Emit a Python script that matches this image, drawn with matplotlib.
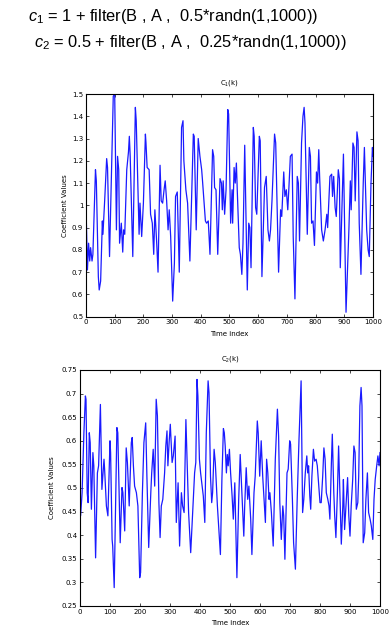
import matplotlib
matplotlib.use('Agg')
import matplotlib.pyplot as plt

t1 = [0, 5, 9, 13, 16, 21, 24, 33, 36, 43, 46, 51, 57, 59, 65, 72, 75, 82, 95, 100,
      106, 110, 114, 117, 123, 128, 131, 135, 142, 148, 151, 154, 163, 172, 175, 185, 188, 194, 200, 207,
      209, 213, 220, 225, 231, 236, 240, 246, 251, 258, 262, 267, 272, 276, 281, 286, 290, 295, 302, 308,
      312, 318, 325, 333, 338, 341, 348, 351, 354, 362, 374, 377, 384, 391, 397, 403, 406, 416, 420, 426,
      432, 441, 445, 448, 453, 459, 467, 472, 475, 478, 483, 488, 494, 497, 504, 509, 511, 516, 520, 524,
      527, 534, 538, 543, 547, 553, 557, 562, 567, 571, 575, 583, 586, 591, 595, 604, 607, 613, 622, 628,
      634, 639, 643, 648, 657, 661, 671, 678, 682, 689, 693, 698, 703, 707, 712, 718, 722, 728, 736, 740,
      744, 751, 756, 760, 763, 771, 778, 782, 786, 791, 796, 803, 807, 811, 814, 821, 827, 833, 839, 842,
      850, 856, 859, 863, 868, 872, 879, 883, 886, 897, 906, 916, 921, 924, 930, 934, 938, 944, 948, 952,
      958, 966, 970, 978, 983, 987, 993, 998, 1000]
c1 = [1.00, 0.71, 0.83, 0.75, 0.81, 0.75, 0.78, 1.16, 1.11, 0.68, 0.62, 0.66, 0.93, 0.87, 1.02, 1.21, 1.17, 0.77, 1.49, 1.50,
      0.89, 1.22, 1.16, 0.83, 0.92, 0.79, 0.89, 0.87, 1.16, 1.24, 1.31, 1.22, 0.77, 1.44, 1.38, 0.87, 1.01, 0.86, 1.01, 1.32,
      1.28, 1.17, 1.16, 0.96, 0.92, 0.78, 0.98, 0.84, 0.70, 1.18, 1.02, 1.01, 1.07, 1.11, 1.02, 0.89, 0.98, 0.86, 0.57, 0.74,
      1.04, 1.06, 0.70, 1.35, 1.38, 1.20, 1.07, 1.04, 1.01, 0.75, 1.32, 1.31, 0.89, 1.30, 1.22, 1.16, 1.11, 0.93, 0.92, 0.93,
      0.78, 1.25, 1.22, 1.08, 1.07, 0.78, 1.12, 1.10, 0.98, 1.11, 0.96, 1.07, 1.43, 1.41, 0.92, 1.07, 0.92, 1.17, 1.10, 1.19,
      1.07, 0.81, 0.78, 0.69, 0.83, 1.27, 0.98, 0.62, 0.92, 0.90, 0.72, 1.35, 1.31, 0.99, 0.96, 1.31, 1.29, 0.68, 1.08, 1.13,
      0.89, 0.84, 0.89, 1.02, 1.32, 1.28, 0.70, 0.98, 0.95, 1.15, 1.04, 1.07, 0.98, 1.08, 1.22, 1.23, 0.86, 0.58, 1.13, 1.10,
      0.84, 1.28, 1.40, 1.44, 1.37, 0.87, 1.26, 1.22, 0.92, 0.93, 0.82, 1.15, 1.10, 1.25, 1.13, 0.89, 0.84, 0.89, 0.96, 0.90,
      1.13, 1.14, 1.04, 1.13, 0.99, 0.95, 1.16, 1.12, 0.72, 1.23, 0.52, 0.89, 1.11, 0.98, 1.28, 1.26, 1.02, 1.33, 1.29, 0.92,
      0.69, 1.10, 1.26, 0.89, 0.80, 0.77, 1.10, 1.26, 1.22]

t2 = [0, 2, 7, 13, 18, 20, 24, 27, 31, 34, 38, 43, 46, 52, 58, 62, 68, 73, 80, 82,
      88, 93, 100, 102, 107, 109, 114, 123, 126, 134, 140, 143, 149, 154, 158, 164, 171, 174, 178, 182,
      188, 193, 199, 202, 208, 213, 219, 223, 229, 236, 239, 244, 249, 254, 258, 263, 267, 271, 276, 282,
      286, 290, 293, 297, 301, 307, 311, 317, 321, 327, 332, 338, 342, 347, 353, 358, 362, 369, 377, 382,
      386, 390, 393, 398, 402, 407, 411, 416, 421, 427, 430, 435, 439, 442, 447, 451, 458, 468, 473, 478,
      481, 484, 488, 491, 494, 498, 502, 507, 511, 516, 523, 529, 534, 540, 546, 549, 554, 559, 563, 569,
      573, 580, 584, 591, 594, 599, 604, 609, 613, 618, 622, 626, 630, 633, 638, 644, 651, 658, 662, 666,
      671, 676, 679, 683, 690, 694, 699, 702, 708, 712, 718, 724, 730, 737, 742, 746, 751, 756, 759, 762,
      766, 769, 773, 778, 782, 787, 791, 796, 800, 804, 809, 813, 817, 821, 826, 830, 833, 838, 841, 846,
      849, 853, 858, 862, 867, 871, 876, 878, 882, 888, 892, 896, 900, 904, 909, 913, 917, 921, 926, 929,
      933, 937, 940, 944, 949, 953, 958, 962, 967, 971, 976, 980, 984, 989, 993, 997, 1000]
c2 = [0.476, 0.441, 0.490, 0.617, 0.695, 0.688, 0.490, 0.469, 0.617, 0.596, 0.455, 0.575, 0.547, 0.352, 0.532, 0.547, 0.677, 0.497, 0.561, 0.540,
      0.462, 0.441, 0.600, 0.575, 0.391, 0.377, 0.289, 0.628, 0.617, 0.384, 0.501, 0.490, 0.409, 0.585, 0.554, 0.462, 0.596, 0.607, 0.547, 0.504,
      0.490, 0.462, 0.310, 0.321, 0.490, 0.596, 0.638, 0.525, 0.374, 0.490, 0.532, 0.582, 0.504, 0.688, 0.653, 0.469, 0.395, 0.462, 0.476, 0.532,
      0.589, 0.621, 0.547, 0.596, 0.635, 0.554, 0.568, 0.610, 0.427, 0.511, 0.377, 0.490, 0.462, 0.448, 0.645, 0.532, 0.448, 0.363, 0.469, 0.532,
      0.554, 0.730, 0.695, 0.561, 0.532, 0.504, 0.483, 0.427, 0.617, 0.727, 0.702, 0.525, 0.469, 0.490, 0.582, 0.554, 0.462, 0.359, 0.518, 0.626,
      0.617, 0.589, 0.532, 0.571, 0.547, 0.582, 0.532, 0.483, 0.434, 0.511, 0.310, 0.476, 0.571, 0.483, 0.398, 0.462, 0.543, 0.476, 0.504, 0.434,
      0.359, 0.490, 0.525, 0.642, 0.617, 0.525, 0.600, 0.525, 0.483, 0.427, 0.561, 0.532, 0.476, 0.490, 0.448, 0.377, 0.561, 0.667, 0.610, 0.469,
      0.391, 0.462, 0.441, 0.349, 0.532, 0.540, 0.600, 0.593, 0.476, 0.384, 0.328, 0.476, 0.603, 0.727, 0.448, 0.476, 0.532, 0.568, 0.532, 0.547,
      0.483, 0.455, 0.525, 0.582, 0.557, 0.561, 0.547, 0.504, 0.469, 0.469, 0.525, 0.585, 0.561, 0.490, 0.476, 0.462, 0.434, 0.554, 0.614, 0.490,
      0.441, 0.395, 0.490, 0.589, 0.476, 0.381, 0.462, 0.518, 0.412, 0.476, 0.522, 0.441, 0.398, 0.462, 0.518, 0.589, 0.575, 0.455, 0.469, 0.525,
      0.674, 0.713, 0.674, 0.384, 0.405, 0.476, 0.532, 0.448, 0.434, 0.420, 0.391, 0.476, 0.518, 0.547, 0.568, 0.547, 0.575]

x_ticks = list(range(0, 1001, 100))
y1_ticks = [0.5, 0.6, 0.7, 0.8, 0.9, 1.0, 1.1, 1.2, 1.3, 1.4, 1.5]
y1_labels = ['0.5', '0.6', '0.7', '0.8', '0.9', '1', '1.1', '1.2', '1.3', '1.4', '1.5']
y2_ticks = [0.25, 0.3, 0.35, 0.4, 0.45, 0.5, 0.55, 0.6, 0.65, 0.7, 0.75]
y2_labels = ['0.25', '0.3', '0.35', '0.4', '0.45', '0.5', '0.55', '0.6', '0.65', '0.7', '0.75']

fs = 5
line_color = '#1a1aff'

plt.rcParams['mathtext.fontset'] = 'custom'
plt.rcParams['mathtext.rm'] = 'Liberation Sans'
plt.rcParams['mathtext.it'] = 'Liberation Sans:italic'

fig = plt.figure(figsize=(3.89, 6.29), dpi=100)

# Wzory nad wykresami
eq_font = ['Liberation Sans', 'DejaVu Sans']
fig.text(28 / 389, 1 - 21 / 629, r'$\mathit{c}_{1}$ = 1 + filter(B , A ,  0.5*randn(1,1000))',
         fontsize=11.8, family=eq_font, va='baseline', ha='left')
fig.text(34 / 389, 1 - 47 / 629, r'$\mathit{c}_{2}$ = 0.5 + filter(B , A ,  0.25*randn(1,1000))',
         fontsize=11.8, family=eq_font, va='baseline', ha='left')


def style_axes(ax, yticks, ylabels, ylim):
    ax.set_xlim(0, 1000)
    ax.set_ylim(*ylim)
    ax.set_xticks(x_ticks)
    ax.set_xticklabels([str(v) for v in x_ticks])
    ax.set_yticks(yticks)
    ax.set_yticklabels(ylabels)
    ax.tick_params(direction='in', top=True, right=True, length=2.2, width=0.5,
                   labelsize=fs, pad=2)
    for s in ax.spines.values():
        s.set_linewidth(0.8)
    ax.set_xlabel('Time index', fontsize=fs, labelpad=4)
    ax.set_ylabel('Coefficient Values', fontsize=fs, labelpad=3)


ax1 = fig.add_axes([86 / 389, 1 - 316.7 / 629, 287 / 389, 222.7 / 629])
ax1.plot(t1, c1, color=line_color, linewidth=0.9)
style_axes(ax1, y1_ticks, y1_labels, (0.5, 1.5))
ax1.set_title(r'C$_1$(k)', fontsize=fs, pad=7)

ax2 = fig.add_axes([80 / 389, 1 - 606 / 629, 300 / 389, 236 / 629])
ax2.plot(t2, c2, color=line_color, linewidth=0.9)
style_axes(ax2, y2_ticks, y2_labels, (0.25, 0.75))
ax2.yaxis.labelpad = 5
ax2.set_title(r'C$_2$(k)', fontsize=fs, pad=7)

fig.savefig('out.png', dpi=100)
